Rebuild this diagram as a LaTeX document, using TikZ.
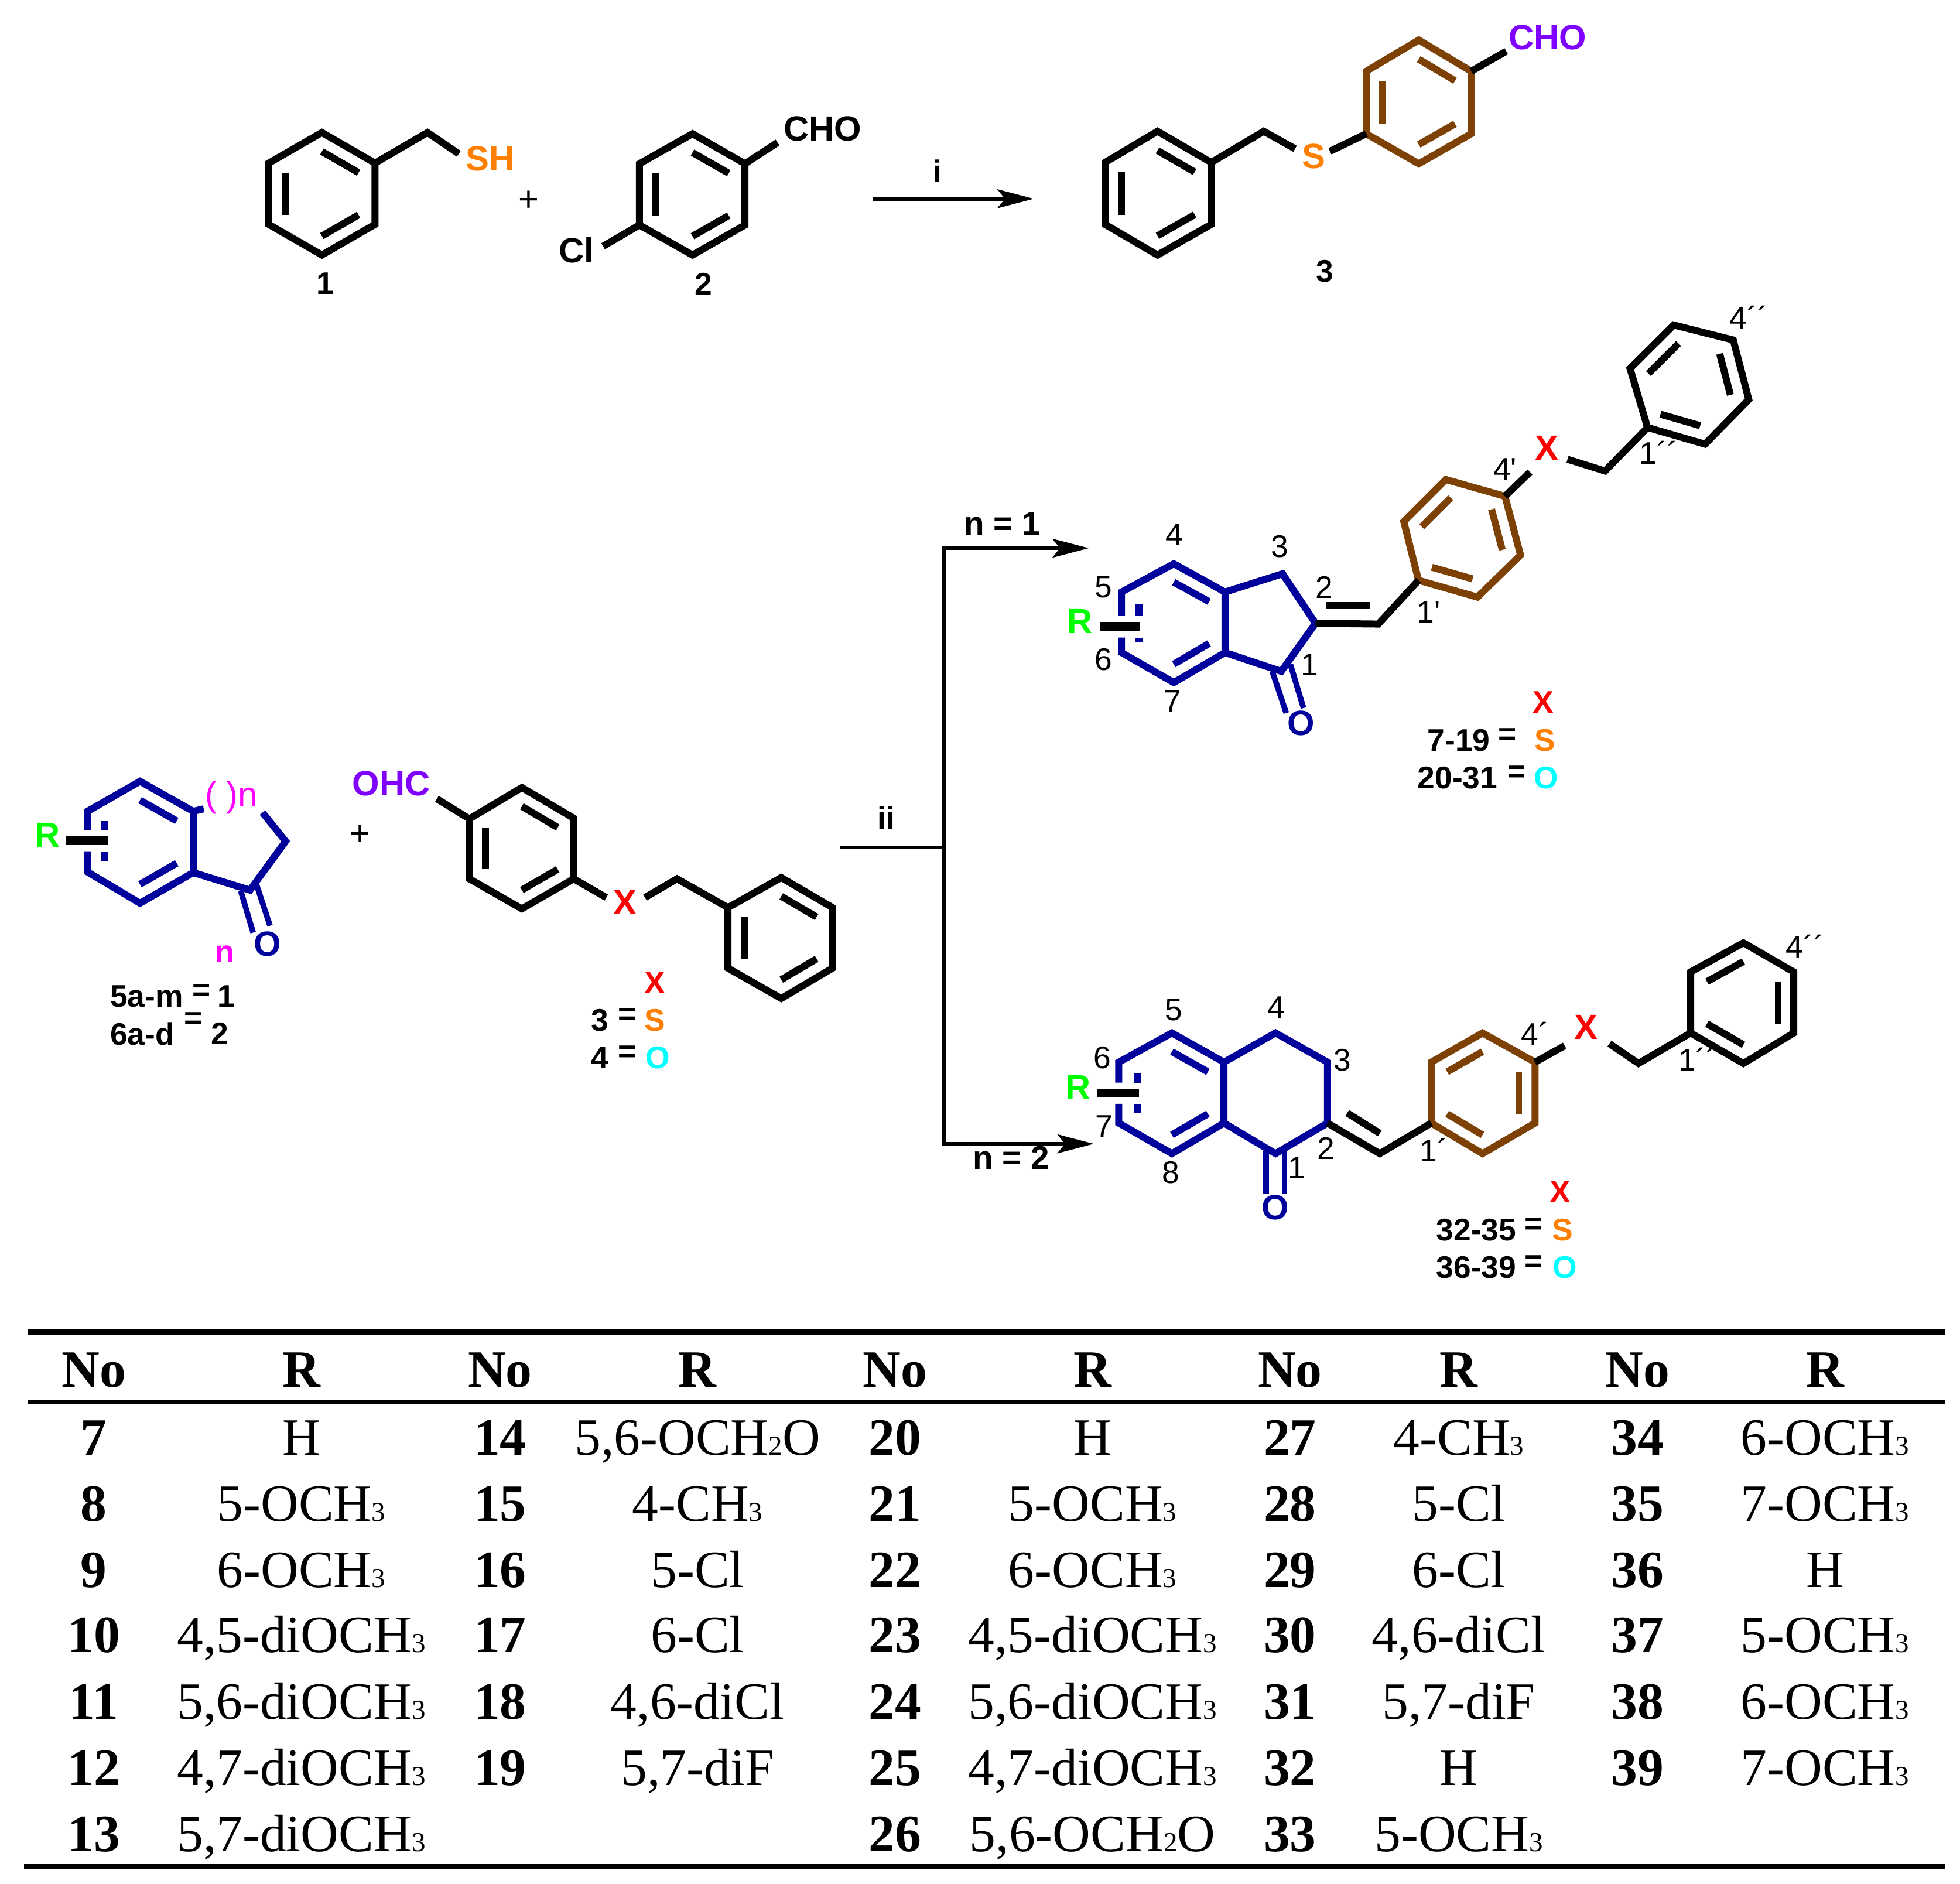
\documentclass[tikz,border=0pt]{standalone}
\usepackage{fontspec}
\usetikzlibrary{calc,arrows.meta}
\newfontfamily\arfam{Liberation Sans}
\newfontfamily\tmfam{Liberation Serif}
\definecolor{cblue}{RGB}{0,0,155}
\definecolor{cbrown}{RGB}{125,65,5}
\definecolor{corange}{RGB}{255,128,0}
\definecolor{cpurple}{RGB}{128,0,255}
\definecolor{cgreen}{RGB}{0,255,0}
\definecolor{ccyan}{RGB}{0,255,255}
\definecolor{cmag}{RGB}{255,0,255}
\definecolor{cred}{RGB}{255,0,0}
\newcommand\ringdef[7]{%
  \coordinate (#11) at (#2);\coordinate (#12) at (#3);\coordinate (#13) at (#4);
  \coordinate (#14) at (#5);\coordinate (#15) at (#6);\coordinate (#16) at (#7);
  \coordinate (#1o) at ($(#11)!.5!(#14)$);}
\newcommand\ringdraw[2]{\draw[#1] (#21)--(#22)--(#23)--(#24)--(#25)--(#26)--cycle;}
\newcommand\dbl[4]{\draw[#1] ($(#2o)!.69!(#2#3)$) -- ($(#2o)!.69!(#2#4)$);}
\newcommand\sbs[1]{{\fontsize{22}{22}\selectfont #1}}
\newcommand\och{OCH\sbs{3}}
\newcommand\tbrow[5]{%
  \node[tabno] (n#4) at (#1,#3+1) {#4};
  \node[tabr] (r#4) at (#2,#3+1) {#5};}
\tikzset{
  bondk/.style={line width=5.6pt,black,line join=miter},
  bondb/.style={line width=5.6pt,cblue,line join=miter},
  bondbr/.style={line width=5.6pt,cbrown,line join=miter},
  rbond/.style={line width=7pt,black},
  arrowln/.style={line width=3pt,black},
  arrowtip/.style={-{Stealth[length=29pt,width=15pt,inset=6pt]}},
  atomlbl/.style={inner sep=0pt,font=\arfam\bfseries\fontsize{28}{30}\selectfont},
  numlbl/.style={inner sep=0pt,font=\arfam\fontsize{25}{28}\selectfont},
  boldlbl/.style={inner sep=0pt,font=\arfam\bfseries\fontsize{25}{28}\selectfont},
  tabno/.style={inner sep=0pt,anchor=base,font=\tmfam\bfseries\fontsize{42}{44}\selectfont},
  tabr/.style={inner sep=0pt,anchor=base,font=\tmfam\fontsize{42}{44}\selectfont},
  tabrule/.style={black,line width=#1},
}
\begin{document}
\begin{tikzpicture}[x=1pt,y=-1pt]
\useasboundingbox (0,0) rectangle (1568,1506.7);
% --- compound 1
\ringdef{A}{257.5,106}{300,130.5}{300,179.5}{257.5,204}{215,179.5}{215,130.5}
\ringdraw{bondk}{A}
\dbl{bondk}{A}{1}{2}\dbl{bondk}{A}{3}{4}\dbl{bondk}{A}{5}{6}
\coordinate (Ach) at (342,106);\coordinate (Asb) at (367,123);
\draw[bondk] (A2)--(Ach)--(Asb);
\node[atomlbl,text=corange] (sh) at (392,127) {SH};
\node[boldlbl] (l1) at (260,227) {1};
\node[inner sep=0pt,font=\arfam\fontsize{28}{30}\selectfont] (plus1) at (423,161) {+};
% --- compound 2
\ringdef{B}{554,107}{596,131}{596,180}{554,204}{511.5,180}{511.5,131}
\ringdraw{bondk}{B}
\dbl{bondk}{B}{1}{2}\dbl{bondk}{B}{3}{4}\dbl{bondk}{B}{5}{6}
\coordinate (Bcho) at (622,114);\coordinate (Bcl) at (482.5,197);
\draw[bondk] (B2)--(Bcho);\draw[bondk] (B5)--(Bcl);
\node[atomlbl] (cho2) at (658,103) {CHO};
\node[atomlbl] (cl2) at (461,200) {Cl};
\node[boldlbl] (l2) at (563,227) {2};
% --- arrow i
\coordinate (ia) at (698,159);\coordinate (ib) at (827,159);
\draw[arrowln,arrowtip] (ia)--(ib);
\node[boldlbl] (li) at (750,137) {i};
% --- compound 3
\ringdef{C}{926,105}{969,130}{969,179.5}{926,204}{884,179.5}{884,130}
\ringdraw{bondk}{C}
\dbl{bondk}{C}{1}{2}\dbl{bondk}{C}{3}{4}\dbl{bondk}{C}{5}{6}
\ringdef{D}{1135,32}{1177,57}{1177,107}{1135,131}{1093,107}{1093,57}
\ringdraw{bondbr}{D}
\dbl{bondbr}{D}{1}{2}\dbl{bondbr}{D}{3}{4}\dbl{bondbr}{D}{5}{6}
\coordinate (Cch) at (1011,105);\coordinate (Csb) at (1036,119);\coordinate (Csc) at (1064,121);\coordinate (Dcho) at (1205,41);
\draw[bondk] (C2)--(Cch)--(Csb);
\draw[bondk] (Csc)--(D5);
\draw[bondk] (D2)--(Dcho);
\node[atomlbl,text=corange] (s3) at (1051,125) {S};
\node[atomlbl,text=cpurple] (cho3) at (1238,30) {CHO};
\node[boldlbl] (l3) at (1060,217) {3};
% --- compound 5/6
\ringdef{E}{112,625}{154.6,649}{154.6,698}{112,722.5}{70,697.5}{70,649}
\coordinate (Eb1) at (70,664);\coordinate (Eb2) at (70,681);
\draw[bondb] (Eb1)--(E6)--(E1)--(E2)--(E3)--(E4)--(E5)--(Eb2);
\dbl{bondb}{E}{1}{2}\dbl{bondb}{E}{3}{4}
\coordinate (Ed1) at (84,657);\coordinate (Ed2) at (84,664);\coordinate (Ed3) at (84,681);\coordinate (Ed4) at (84,689);
\draw[bondb] (Ed1)--(Ed2);\draw[bondb] (Ed3)--(Ed4);
\coordinate (Er1) at (53,672.3);\coordinate (Er2) at (86,672.3);
\draw[rbond] (Er1)--(Er2);
\node[atomlbl,text=cgreen] (R5) at (38,668) {R};
\coordinate (Es) at (163,647);\coordinate (Ef1) at (210,650);\coordinate (Ef2) at (228.5,673);\coordinate (Ef3) at (200,712);
\draw[bondb] (E2)--(Es);
\draw[bondb] (Ef1)--(Ef2)--(Ef3)--(E3);
\coordinate (Eo1) at (192.6,712.7);\coordinate (Eo2) at (202.5,746);\coordinate (Eo3) at (205,707);\coordinate (Eo4) at (216,740.5);
\draw[line width=4.5pt,cblue] (Eo1)--(Eo2);\draw[line width=4.5pt,cblue] (Eo3)--(Eo4);
\node[atomlbl,text=cblue] (O5) at (214,755) {O};
\node[inner sep=0pt,text=cmag,font=\arfam\fontsize{28}{30}\selectfont] (parn) at (185,638) {( )n};
\node[boldlbl,text=cmag] (nn) at (180,763) {n};
\node[boldlbl,anchor=west] (t5) at (88,797) {5a-m};
\node[boldlbl] (eq5) at (161,794) {=};
\node[boldlbl] (v5) at (181,797) {1};
\node[boldlbl,anchor=west] (t6) at (88,827) {6a-d};
\node[boldlbl] (eq6) at (154.5,816.5) {=};
\node[boldlbl] (v6) at (176,827) {2};
\node[inner sep=0pt,font=\arfam\fontsize{28}{30}\selectfont] (plus2) at (288,668) {+};
% --- OHC ring
\ringdef{F}{417.5,630}{459,654.5}{459,703}{417.5,727}{375.5,703}{375.5,655}
\ringdraw{bondk}{F}
\dbl{bondk}{F}{1}{2}\dbl{bondk}{F}{3}{4}\dbl{bondk}{F}{5}{6}
\ringdef{G}{625,702}{666,726}{666,774.5}{625,798.7}{582.4,774.5}{582.4,726}
\ringdraw{bondk}{G}
\dbl{bondk}{G}{1}{2}\dbl{bondk}{G}{3}{4}\dbl{bondk}{G}{5}{6}
\coordinate (Fo) at (349.5,639);\coordinate (Fx) at (485,718);\coordinate (Gx) at (516,718);\coordinate (Gch) at (541.6,703);
\draw[bondk] (F6)--(Fo);\draw[bondk] (F3)--(Fx);\draw[bondk] (Gx)--(Gch)--(G6);
\node[atomlbl,text=cpurple] (ohc) at (313,627) {OHC};
\node[atomlbl,text=cred] (xf) at (500,722) {X};
\node[boldlbl,text=cred] (lx1) at (524,786) {X};
\node[boldlbl] (l3b) at (480,816) {3};
\node[boldlbl] (e3b) at (502,813) {=};
\node[boldlbl,text=corange] (s3b) at (524,816) {S};
\node[boldlbl] (l4b) at (480,846) {4};
\node[boldlbl] (e4b) at (502,843) {=};
\node[boldlbl,text=ccyan] (o4b) at (526,846) {O};
% --- branched arrow ii
\coordinate (ja) at (672,678);\coordinate (jb) at (755,678);\coordinate (jt) at (755,438.5);\coordinate (jd) at (755,915);
\coordinate (jte) at (871,438.5);\coordinate (jde) at (875,915);
\draw[arrowln] (ja)--(jb);
\draw[arrowln,arrowtip] (jb)--(jt)--(jte);
\draw[arrowln,arrowtip] (jb)--(jd)--(jde);
\node[boldlbl] (lii) at (709,654) {ii};
\node[boldlbl,font=\arfam\bfseries\fontsize{26.5}{28}\selectfont] (ln1) at (802,419) {n = 1};
\node[boldlbl,font=\arfam\bfseries\fontsize{26.5}{28}\selectfont] (ln2) at (809,926) {n = 2};
% --- product 7-31
\ringdef{H}{939,451}{980,473.6}{980,522}{939,546}{897.2,522}{897.2,473.6}
\coordinate (Hb1) at (897.2,492.5);\coordinate (Hb2) at (897.2,510);
\draw[bondb] (Hb1)--(H6)--(H1)--(H2)--(H3)--(H4)--(H5)--(Hb2);
\dbl{bondb}{H}{1}{2}\dbl{bondb}{H}{3}{4}
\coordinate (Hd1) at (911,483);\coordinate (Hd2) at (911,492.5);\coordinate (Hd3) at (911,510);\coordinate (Hd4) at (911,514);
\draw[bondb] (Hd1)--(Hd2);\draw[bondb] (Hd3)--(Hd4);
\coordinate (Hr1) at (879.7,501);\coordinate (Hr2) at (912.3,501);
\draw[rbond] (Hr1)--(Hr2);
\node[atomlbl,text=cgreen] (R7) at (864,497) {R};
\coordinate (Hf1) at (1026,459);\coordinate (Hf2) at (1052.4,498.6);\coordinate (Hf3) at (1025,537);
\draw[bondb] (H2)--(Hf1)--(Hf2)--(Hf3)--(H3);
\coordinate (Ho1) at (1017.7,536.8);\coordinate (Ho2) at (1029,570.4);\coordinate (Ho3) at (1032.3,531.5);\coordinate (Ho4) at (1042.8,566.4);
\draw[line width=4.5pt,cblue] (Ho1)--(Ho2);\draw[line width=4.5pt,cblue] (Ho3)--(Ho4);
\node[atomlbl,text=cblue] (O7) at (1040.7,578.5) {O};
\ringdef{I}{1156.6,383.6}{1204,397}{1216.4,444}{1182,477.7}{1134.8,464.2}{1123,417.2}
\ringdraw{bondbr}{I}
\dbl{bondbr}{I}{1}{6}\dbl{bondbr}{I}{2}{3}\dbl{bondbr}{I}{4}{5}
\coordinate (Hex) at (1102.6,499.2);\coordinate (Hin1) at (1060.8,484.4);\coordinate (Hin2) at (1096.4,484.4);
\draw[bondk] (Hf2)--(Hex)--(I5);
\draw[bondk] (Hin1)--(Hin2);
\coordinate (Ix) at (1224,377.6);\coordinate (Jx) at (1254,367.4);\coordinate (Jch) at (1284,376.8);
\draw[bondk] (I2)--(Ix);
\ringdef{J}{1339,260}{1386.6,272}{1399,319.6}{1364,355.3}{1318,342}{1304,294.8}
\ringdraw{bondk}{J}
\dbl{bondk}{J}{1}{6}\dbl{bondk}{J}{2}{3}\dbl{bondk}{J}{4}{5}
\draw[bondk] (Jx)--(Jch)--(J5);
\node[atomlbl,text=cred] (x7) at (1237.3,358.5) {X};
\node[numlbl] (p4) at (939.5,428) {4};
\node[numlbl] (p3) at (1024,437) {3};
\node[numlbl] (p5) at (882.6,469.6) {5};
\node[numlbl] (p2) at (1059.5,469.6) {2};
\node[numlbl] (p6) at (882.6,527.4) {6};
\node[numlbl] (p1) at (1047.8,532) {1};
\node[numlbl] (p7) at (938,561) {7};
\node[numlbl] (p1p) at (1143,489.8) {1'};
\node[numlbl] (p4p) at (1204,375.5) {4'};
\node[numlbl] (p1pp) at (1327,362) {1´´};
\node[numlbl] (p4pp) at (1399,254) {4´´};
\node[boldlbl,text=cred] (lx7) at (1234.4,561.6) {X};
\node[boldlbl] (t7) at (1167,592) {7-19};
\node[boldlbl] (e7) at (1206,589) {=};
\node[boldlbl,text=corange] (s7) at (1236,592) {S};
\node[boldlbl] (t20) at (1166,622) {20-31};
\node[boldlbl] (e20) at (1213.5,619) {=};
\node[boldlbl,text=ccyan] (o20) at (1237,622) {O};
% --- product 32-39
\ringdef{K}{937.5,826.3}{979.2,849.7}{979.2,898.4}{937.5,922.8}{895,898.4}{895,849.7}
\coordinate (Kb1) at (895,866);\coordinate (Kb2) at (895,883);
\draw[bondb] (Kb1)--(K6)--(K1)--(K2)--(K3)--(K4)--(K5)--(Kb2);
\dbl{bondb}{K}{1}{2}\dbl{bondb}{K}{3}{4}
\coordinate (Kd1) at (909.7,858.4);\coordinate (Kd2) at (909.7,866);\coordinate (Kd3) at (909.7,883);\coordinate (Kd4) at (909.7,890.3);
\draw[bondb] (Kd1)--(Kd2);\draw[bondb] (Kd3)--(Kd4);
\coordinate (Kr1) at (877.4,874.5);\coordinate (Kr2) at (911,874.5);
\draw[rbond] (Kr1)--(Kr2);
\node[atomlbl,text=cgreen] (R32) at (862.6,870) {R};
\coordinate (Kf1) at (1020.4,826.3);\coordinate (Kf2) at (1062,849.7);\coordinate (Kf3) at (1062,898.4);\coordinate (Kf4) at (1020.4,922.8);
\draw[bondb] (K2)--(Kf1)--(Kf2)--(Kf3)--(Kf4)--(K3);
\coordinate (Ko1) at (1012.8,920.8);\coordinate (Ko2) at (1012.8,955.3);\coordinate (Ko3) at (1027.6,920.8);\coordinate (Ko4) at (1027.6,955.3);
\draw[line width=4.5pt,cblue] (Ko1)--(Ko2);\draw[line width=4.5pt,cblue] (Ko3)--(Ko4);
\node[atomlbl,text=cblue] (O32) at (1020.4,966) {O};
\ringdef{L}{1186,826.3}{1228,849.7}{1228,898.4}{1186,922.8}{1145,898.4}{1145,849.7}
\ringdraw{bondbr}{L}
\dbl{bondbr}{L}{1}{6}\dbl{bondbr}{L}{2}{3}\dbl{bondbr}{L}{4}{5}
\coordinate (Kex) at (1103.8,922.8);\coordinate (Kin1) at (1077.8,890.3);\coordinate (Kin2) at (1103.8,906.6);
\draw[bondk] (Kf3)--(Kex)--(L5);
\draw[bondk] (Kin1)--(Kin2);
\coordinate (Lx) at (1251.7,836.5);\coordinate (Mx) at (1287.5,834.8);\coordinate (Mch) at (1310.8,850.7);
\draw[bondk] (L2)--(Lx);
\ringdef{M}{1394.7,754.2}{1435,777.5}{1435,826.3}{1394.7,850.7}{1352.5,826.3}{1352.5,777.5}
\ringdraw{bondk}{M}
\dbl{bondk}{M}{1}{6}\dbl{bondk}{M}{2}{3}\dbl{bondk}{M}{4}{5}
\draw[bondk] (Mx)--(Mch)--(M5);
\node[atomlbl,text=cred] (x32) at (1269,821.8) {X};
\node[numlbl] (q5) at (938.8,808) {5};
\node[numlbl] (q4) at (1021,806) {4};
\node[numlbl] (q6) at (882,846) {6};
\node[numlbl] (q3) at (1074,848) {3};
\node[numlbl] (q7) at (883,901) {7};
\node[numlbl] (q2) at (1061,918.8) {2};
\node[numlbl] (q8) at (936.6,938) {8};
\node[numlbl] (q1) at (1037.4,934) {1};
\node[numlbl] (q1p) at (1147,920) {1´};
\node[numlbl] (q4p) at (1228,827) {4´};
\node[numlbl] (q1pp) at (1358,847.6) {1´´};
\node[numlbl] (q4pp) at (1444,757) {4´´};
\node[boldlbl,text=cred] (lx32) at (1248,953.3) {X};
\node[boldlbl] (t32) at (1181,984) {32-35};
\node[boldlbl] (e32) at (1227,981) {=};
\node[boldlbl,text=corange] (s32) at (1250,984) {S};
\node[boldlbl] (t36) at (1181,1014) {36-39};
\node[boldlbl] (e36) at (1227,1011) {=};
\node[boldlbl,text=ccyan] (o36) at (1251.7,1014) {O};
% --- table
\coordinate (ta) at (22,1065.6);\coordinate (tb) at (1556,1065.6);
\coordinate (ma) at (22,1121.5);\coordinate (mb) at (1556,1121.5);
\coordinate (ba) at (19,1493);\coordinate (bb) at (1556,1493);
\draw[tabrule=4.5pt] (ta)--(tb);
\draw[tabrule=2.5pt] (ma)--(mb);
\draw[tabrule=5pt] (ba)--(bb);
\foreach \nm/\xx/\tt in {a/75/No,b/241/R,c/400/No,d/558/R,e/716/No,f/874/R,g/1032/No,h/1167/R,i/1310/No,j/1460/R}{
  \node[tabno] (hd\nm) at (\xx,1109.5) {\tt};
}
\tbrow{75}{241}{1163}{7}{H}
\tbrow{75}{241}{1216}{8}{5-\och}
\tbrow{75}{241}{1269}{9}{6-\och}
\tbrow{75}{241}{1321}{10}{4,5-di\och}
\tbrow{75}{241}{1374}{11}{5,6-di\och}
\tbrow{75}{241}{1427}{12}{4,7-di\och}
\tbrow{75}{241}{1480}{13}{5,7-di\och}
\tbrow{400}{558}{1163}{14}{5,6-OCH\sbs{2}O}
\tbrow{400}{558}{1216}{15}{4-CH\sbs{3}}
\tbrow{400}{558}{1269}{16}{5-Cl}
\tbrow{400}{558}{1321}{17}{6-Cl}
\tbrow{400}{558}{1374}{18}{4,6-diCl}
\tbrow{400}{558}{1427}{19}{5,7-diF}
\tbrow{716}{874}{1163}{20}{H}
\tbrow{716}{874}{1216}{21}{5-\och}
\tbrow{716}{874}{1269}{22}{6-\och}
\tbrow{716}{874}{1321}{23}{4,5-di\och}
\tbrow{716}{874}{1374}{24}{5,6-di\och}
\tbrow{716}{874}{1427}{25}{4,7-di\och}
\tbrow{716}{874}{1480}{26}{5,6-OCH\sbs{2}O}
\tbrow{1032}{1167}{1163}{27}{4-CH\sbs{3}}
\tbrow{1032}{1167}{1216}{28}{5-Cl}
\tbrow{1032}{1167}{1269}{29}{6-Cl}
\tbrow{1032}{1167}{1321}{30}{4,6-diCl}
\tbrow{1032}{1167}{1374}{31}{5,7-diF}
\tbrow{1032}{1167}{1427}{32}{H}
\tbrow{1032}{1167}{1480}{33}{5-\och}
\tbrow{1310}{1460}{1163}{34}{6-\och}
\tbrow{1310}{1460}{1216}{35}{7-\och}
\tbrow{1310}{1460}{1269}{36}{H}
\tbrow{1310}{1460}{1321}{37}{5-\och}
\tbrow{1310}{1460}{1374}{38}{6-\och}
\tbrow{1310}{1460}{1427}{39}{7-\och}
\end{tikzpicture}
\end{document}
